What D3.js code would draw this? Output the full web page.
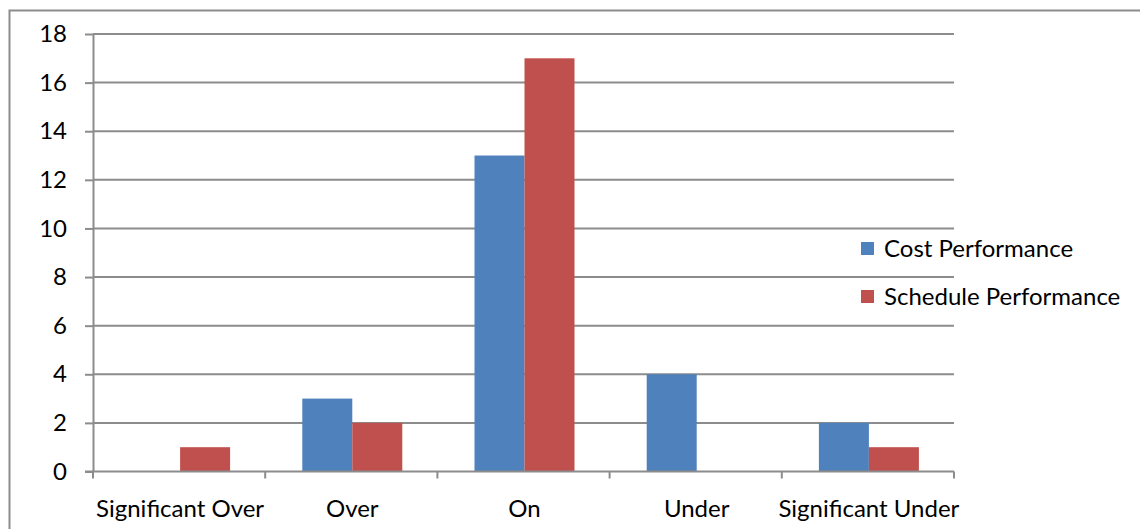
<!DOCTYPE html>
<html>
<head>
<meta charset="utf-8">
<script src="https://cdn.jsdelivr.net/npm/d3@7"></script>
<style>
  html, body { margin: 0; padding: 0; background: #fff; }
  svg { display: block; }
  text { font-family: Lato, "Open Sans", sans-serif; fill: #000; }
</style>
</head>
<body>
<div id="chart"></div>
<script>
// Performance ratings per category
const categories = ["Significant Over", "Over", "On", "Under", "Significant Under"];
const seriesNames = ["Cost Performance", "Schedule Performance"];
const costValues = [0, 3, 13, 4, 2];
const scheduleValues = [1, 2, 17, 0, 1];
const yTicks = [0, 2, 4, 6, 8, 10, 12, 14, 16, 18];
const colors = ["#4F81BD", "#C0504D"];

const W = 1140, H = 529;
const plot = { left: 93, right: 954, top: 34, bottom: 471.5 };
const fontSize = 24;

const svg = d3.select("#chart").append("svg")
  .attr("width", W).attr("height", H);

// outer chart frame
svg.append("rect")
  .attr("x", 9.5).attr("y", 10.5)
  .attr("width", W + 10).attr("height", H + 10)
  .attr("fill", "none").attr("stroke", "#8c8c8c").attr("stroke-width", 2);

const x = d3.scaleBand().domain(categories)
  .range([plot.left, plot.right]).paddingInner(0).paddingOuter(0);
const x1 = d3.scaleBand().domain(seriesNames)
  .range([0, 100]);
const y = d3.scaleLinear().domain([0, 18]).range([plot.bottom, plot.top]);

// horizontal gridlines
svg.append("g").selectAll("line").data(yTicks.filter(d => d > 0)).join("line")
  .attr("x1", plot.left).attr("x2", plot.right)
  .attr("y1", d => y(d)).attr("y2", d => y(d))
  .attr("stroke", "#8c8c8c").attr("stroke-width", 2);

// bars
const rows = categories.map((c, i) => ({ cat: c, vals: [costValues[i], scheduleValues[i]] }));
const groups = svg.append("g").selectAll("g").data(rows).join("g")
  .attr("transform", d => `translate(${x(d.cat) + x.bandwidth() / 2 - 49},0)`);
groups.selectAll("rect").data(d => d.vals.map((v, k) => ({ v, k })).filter(e => e.v > 0)).join("rect")
  .attr("x", e => x1(seriesNames[e.k]))
  .attr("width", x1.bandwidth())
  .attr("y", e => y(e.v))
  .attr("height", e => y(0) - y(e.v))
  .attr("fill", e => colors[e.k]);

// y axis
const yAxis = svg.append("g").attr("transform", `translate(${plot.left},0)`)
  .call(d3.axisLeft(y).tickValues(yTicks).tickSize(8).tickPadding(18).tickSizeOuter(0));
yAxis.select(".domain").attr("stroke", "#8c8c8c").attr("stroke-width", 2);
yAxis.selectAll(".tick line").attr("stroke", "#8c8c8c").attr("stroke-width", 2);
yAxis.selectAll(".tick text").attr("font-size", fontSize).attr("font-family", "Lato, sans-serif").attr("fill", "#000");

// x axis with boundary ticks between categories
const xAxisG = svg.append("g").attr("transform", `translate(0,${plot.bottom})`);
xAxisG.append("line").attr("x1", plot.left - 8).attr("x2", plot.right)
  .attr("stroke", "#8c8c8c").attr("stroke-width", 2);
const bounds = categories.map(c => x(c)).concat([plot.right]);
xAxisG.selectAll("line.b").data(bounds).join("line").attr("class", "b")
  .attr("x1", d => d).attr("x2", d => d).attr("y1", 0).attr("y2", 7)
  .attr("stroke", "#8c8c8c").attr("stroke-width", 2);
xAxisG.selectAll("text").data(categories).join("text")
  .attr("x", d => x(d) + x.bandwidth() / 2 + 1).attr("y", 45)
  .attr("text-anchor", "middle").attr("font-size", fontSize).text(d => d);

// legend
const legend = svg.append("g").attr("transform", "translate(861,0)");
seriesNames.forEach((name, i) => {
  const yy = 249 + i * 48;
  legend.append("rect").attr("x", 0).attr("y", yy - 7).attr("width", 13).attr("height", 13).attr("fill", colors[i]);
  legend.append("text").attr("x", 23).attr("y", yy + 8).attr("font-size", fontSize).text(name);
});
</script>
</body>
</html>
